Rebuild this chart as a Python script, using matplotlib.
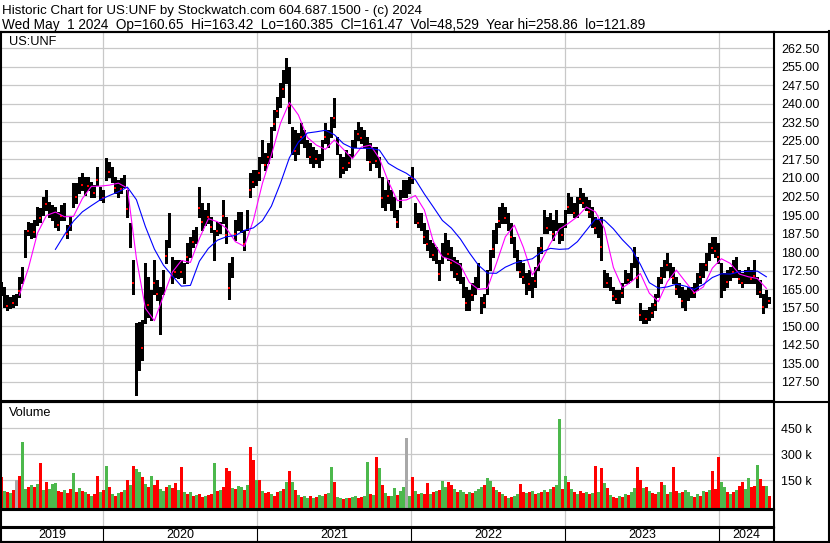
import numpy as np
import pandas as pd
import matplotlib
matplotlib.use("Agg")
import matplotlib.pyplot as plt
from matplotlib.lines import Line2D

plt.rcParams['font.family'] = ['Liberation Sans', 'DejaVu Sans']

# weekly high / low of US:UNF, 5 May 2019 .. 29 Apr 2024
highs = [168.0, 166.0, 162.6, 161.9, 162.6, 163.2, 170.0, 174.1, 188.9, 192.3,
         191.6, 192.9, 198.4, 197.7, 202.4, 205.1, 200.4, 199.0, 198.4, 196.3,
         199.0, 199.7, 190.9, 194.3, 207.8, 207.8, 210.5, 211.9, 210.5, 210.5,
         208.5, 207.1, 214.6, 206.5, 205.1, 217.9, 216.6, 214.6, 210.5, 209.2,
         209.8, 211.2, 205.1, 191.6, 176.8, 151.1, 151.8, 152.5, 175.4, 170.0,
         164.6, 176.8, 168.7, 166.0, 172.7, 184.8, 195.7, 178.1, 176.8, 176.8,
         176.8, 175.4, 183.5, 186.2, 188.9, 190.3, 206.5, 199.7, 197.0, 199.7,
         194.3, 188.9, 192.3, 192.3, 201.1, 194.3, 175.4, 178.1, 193.0, 196.3,
         196.3, 188.9, 197.0, 211.9, 213.2, 213.2,
         218.6, 225.4, 220.0, 224.0, 230.8, 237.5, 242.9, 248.3, 253.7, 258.4,
         255.0, 230.8, 229.4, 228.1, 232.1, 229.4, 225.4, 224.0, 222.7, 221.3,
         219.9, 225.4, 232.1, 229.4, 234.8, 242.2, 226.7, 219.9, 218.6, 221.3,
         219.9, 225.4, 229.4, 232.8, 230.8, 229.4, 226.7, 224.0, 222.7, 222.7,
         218.6, 210.5, 205.1, 209.2, 205.1, 202.4, 197.0, 205.1, 209.2, 209.2,
         210.5, 214.6, 199.7, 195.7, 195.7, 191.6, 188.9, 184.8, 183.5, 182.2,
         176.8, 183.5, 187.6, 184.8, 182.2, 178.1, 176.8, 175.4, 170.0, 166.0,
         164.6, 167.3, 170.0, 175.4, 161.9, 163.2, 172.7, 180.8, 188.9, 191.6,
         198.4,
         199.7, 198.4, 195.7, 191.6, 186.2, 180.8, 176.8, 175.4, 171.4, 172.7,
         170.0, 174.1, 182.2, 186.2, 197.0, 194.3, 195.7, 193.0, 197.0, 191.6,
         191.6, 197.0, 203.8, 202.4, 199.7, 202.4, 205.8, 203.8, 202.4, 201.1,
         198.4, 194.3, 193.0, 194.3, 172.7, 171.4, 170.0, 166.0, 164.6, 164.6,
         167.3, 172.7, 171.4, 175.4, 182.2, 178.1, 159.2, 156.5, 156.5, 157.8,
         159.2, 163.2, 170.0, 174.1, 176.8, 179.5, 175.4, 174.1, 170.0, 167.3,
         166.0, 164.6, 166.0, 166.0, 167.3, 171.4, 175.4, 175.4, 179.5, 183.5,
         186.2, 186.2, 183.5, 175.4, 171.4, 172.7, 174.1, 176.8, 178.1, 172.7,
         171.4, 172.7, 174.1, 172.7, 176.8, 170.0, 168.7, 163.2, 164.6, 161.9]

lows = [162.6, 157.8, 156.5, 157.2, 157.8, 158.5, 161.9, 167.3, 178.1, 186.9,
        185.5, 186.2, 190.9, 192.3, 195.0, 197.0, 194.3, 193.0, 190.3, 188.9,
        193.0, 193.0, 185.5, 188.9, 198.4, 199.7, 203.8, 205.1, 203.1, 205.1,
        202.4, 202.4, 207.1, 201.1, 200.4, 209.2, 210.5, 208.5, 203.8, 202.4,
        203.8, 206.5, 194.3, 182.2, 163.2, 122.1, 132.2, 136.3, 151.1, 153.8,
        152.5, 163.2, 160.6, 147.0, 163.2, 175.4, 182.2, 167.3, 170.0, 169.3,
        170.0, 167.3, 175.4, 178.1, 182.2, 183.5, 194.3, 188.9, 190.9, 191.6,
        188.2, 176.8, 186.9, 187.6, 191.6, 183.5, 161.2, 170.0, 184.8, 188.9,
        188.2, 180.8, 188.9, 202.4, 206.5, 207.1,
        209.2, 215.9, 213.2, 215.9, 218.6, 229.4, 234.8, 238.9, 242.9, 248.3,
        232.1, 219.9, 217.3, 219.9, 224.0, 222.7, 218.6, 215.9, 214.6, 215.9,
        214.6, 217.3, 224.0, 222.7, 226.7, 230.8, 219.9, 210.5, 211.9, 213.2,
        214.6, 218.6, 222.7, 225.4, 224.0, 222.7, 217.3, 213.2, 215.9, 214.6,
        210.5, 198.4, 197.0, 199.7, 197.0, 194.3, 190.3, 198.4, 202.4, 202.4,
        203.8, 207.8, 191.6, 190.3, 188.9, 183.5, 180.8, 178.1, 176.8, 175.4,
        168.7, 175.4, 178.1, 176.8, 172.7, 170.0, 168.7, 167.3, 161.9, 156.5,
        156.5, 160.6, 163.2, 166.0, 155.2, 157.8, 163.2, 172.7, 178.1, 183.5,
        190.3,
        191.6, 191.6, 188.9, 183.5, 178.1, 172.7, 170.0, 167.3, 163.2, 164.6,
        161.9, 166.0, 172.7, 179.5, 187.6, 187.6, 188.9, 184.8, 188.9, 183.5,
        184.8, 190.3, 195.7, 195.7, 194.3, 194.3, 199.7, 198.4, 197.0, 194.3,
        190.3, 187.6, 186.2, 176.8, 166.0, 166.0, 164.6, 160.6, 159.2, 159.2,
        161.9, 167.3, 167.3, 168.7, 174.1, 166.0, 152.5, 151.1, 151.1, 152.5,
        153.8, 156.5, 161.9, 167.3, 170.0, 172.7, 170.0, 167.3, 163.2, 161.9,
        157.8, 156.5, 160.6, 161.9, 161.9, 164.6, 167.3, 170.0, 172.7, 176.8,
        179.5, 178.1, 175.4, 161.9, 164.6, 166.0, 168.7, 170.0, 170.0, 167.3,
        166.0, 167.3, 167.3, 167.3, 167.3, 163.2, 161.9, 155.2, 157.8, 159.2]

# weekly volume in thousands, r = down, g = up, k = unchanged
volume_k = [170, 90, 80, 75, 95, 150, 175, 370, 100, 110,
            120, 110, 130, 250, 95, 140, 100, 130, 135, 90,
            80, 95, 75, 100, 190, 85, 105, 90, 80, 70,
            60, 70, 175, 80, 95, 232, 110, 70, 60, 75,
            80, 95, 150, 120, 235, 213, 195, 170, 130, 110,
            175, 120, 150, 100, 90, 110, 120, 105, 135, 95,
            229, 80, 70, 85, 60, 65, 70, 55, 60, 65,
            70, 248, 90, 95, 110, 219, 204, 105, 100, 115,
            110, 95, 120, 344, 267, 150, 150, 90, 75, 80,
            70, 60, 80, 90, 100, 140, 205, 140, 95, 65,
            55, 60, 45, 60, 50, 55, 65, 60, 70, 75,
            229, 140, 55, 45, 40, 50, 45, 55, 60, 45,
            55, 60, 258, 70, 65, 287, 221, 123, 75, 60,
            60, 105, 65, 90, 110, 396, 60, 169, 90, 70,
            75, 70, 136, 70, 80, 90, 95, 148, 110, 142,
            120, 100, 85, 95, 80, 70, 85, 75, 90, 100,
            110, 120, 163, 148, 110, 95, 80, 70, 60, 50,
            55, 60, 70, 129, 85, 75, 80, 90, 70, 75,
            80, 95, 85, 100, 110, 120, 504, 100, 175, 140,
            100, 80, 70, 90, 75, 80, 70, 75, 233, 80,
            223, 137, 105, 65, 55, 50, 60, 55, 70, 65,
            80, 104, 227, 150, 104, 110, 90, 75, 70, 80,
            140, 125, 70, 80, 227, 90, 75, 85, 95, 80,
            60, 55, 70, 60, 90, 85, 95, 204, 102, 285,
            140, 110, 80, 70, 85, 95, 115, 140, 100, 163,
            110, 115, 238, 158, 117, 117, 60]
volume_dir = ("rgrgrkrggr" "grgrgrgggr" "rgrrgrgrgr" "grrgrgrgrg" "rgrgrggrgr"
              "grrggrgrrg" "rgrgrgrrgr" "rgrgrrrgrg" "grgrrgrgrr" "grrgrgrgrg"
              "rggrgrggrg" "grggrgrggr" "rggrgrgrgr" "ggrggkgrgr" "grrgrgrggr"
              "rgrggrgrgg" "grggrgrgrg" "rggrrgrgrg" "rgrgrggrgr" "grgrrgrgrg"
              "rgrgrrgrgr" "ggrrgrgrrg" "rgrgrrgrgg" "grgrgrgrrr" "ggrgrgrrgg"
              "rrgrrgr")

# moving averages, every third week (50 day from week 6, 200 day from week 18)
ma50 = [162.6, 173.5, 187.6, 194.8, 196.2, 194.3, 194.4, 201.7, 206.6, 206.7,
        207.1, 207.9, 205.9, 177.4, 157.2, 152.2, 162.2, 171.9, 176.6, 175.8,
        185.5, 193.5, 192.3, 189.6, 184.2, 182.3, 192.9, 207.8, 219.3, 232.1,
        240.6, 235.5, 226.4, 223.3, 221.6, 225.4, 221.6, 217.8, 222.5, 223.3,
        217.9, 208.5, 200.8, 201.1, 202.9, 197.0, 184.2, 178.1, 176.8, 174.7,
        167.7, 164.9, 165.3, 175.4, 186.2, 190.9, 181.9, 170.7, 176.5, 183.5,
        189.3, 191.6, 194.3, 198.2, 196.3, 189.6, 173.8, 165.5, 168.0, 171.3,
        163.3, 159.9, 168.0, 172.7, 168.0, 163.5, 165.9, 173.5, 177.3, 175.4,
        171.1, 170.0, 169.3, 165.3]
ma200 = [181.1, 187.0, 192.5, 196.3, 198.8, 201.2, 202.9, 204.4, 206.3, 201.2,
         190.3, 181.2, 174.7, 170.3, 166.2, 166.5, 176.3, 181.5, 184.8, 186.2,
         186.7, 188.8, 189.8, 192.7, 198.6, 207.8, 218.2, 224.5, 228.2, 228.7,
         229.3, 227.5, 223.9, 222.1, 222.0, 222.0, 221.3, 215.9, 213.7, 211.9,
         209.3, 203.5, 198.2, 192.8, 189.7, 185.3, 179.7, 174.7, 171.5, 171.4,
         173.9, 175.5, 176.5, 177.3, 180.0, 181.5, 181.1, 181.3, 184.2, 188.8,
         193.4, 192.9, 189.4, 185.0, 181.3, 175.0, 167.6, 165.4, 165.9, 167.0,
         166.2, 164.9, 166.9, 169.7, 171.2, 171.1, 172.0, 172.2, 172.3, 170.0]

years = [2019, 2020, 2021, 2022, 2023, 2024]
price_ticks = np.arange(127.5, 263, 7.5)
vol_ticks = [150, 300, 450]

title1 = "Historic Chart for US:UNF by Stockwatch.com 604.687.1500 - (c) 2024"
title2 = ("Wed May  1 2024  Op=160.65  Hi=163.42  Lo=160.385  Cl=161.47  "
          "Vol=48,529  Year hi=258.86  lo=121.89")

dates = pd.date_range('2019-05-05', '2024-04-29', periods=len(highs))
x_left, x_right = pd.Timestamp('2019-05-04'), pd.Timestamp('2024-05-10')
bounds = [x_left] + [pd.Timestamp(f'{y}-01-01') for y in years[1:]] + [x_right]

W, H = 830, 543
fig = plt.figure(figsize=(W / 100, H / 100), dpi=100)
grid_c = '#c8c8c8'
PX = 0.72  # one pixel in points


def box(x0, y0, x1, y1):
    # pixel box -> figure fraction
    return [x0 / W, 1 - y1 / H, (x1 - x0) / W, (y1 - y0) / H]


ax = fig.add_axes(box(1, 32, 774, 401))
axv = fig.add_axes(box(1, 402, 774, 509))
axe = fig.add_axes(box(1, 510, 774, 527))
axy = fig.add_axes(box(1, 528, 774, 542))

for a in (ax, axv, axe, axy):
    a.set_xlim(x_left, x_right)
    for s in a.spines.values():
        s.set_color('black')
        s.set_linewidth(1.5)
    a.set_xticks([])

# price panel
hi = np.array(highs)
lo = np.array(lows)
ax.vlines(dates, lo, hi, color='black', linewidth=2.6 * PX, antialiased=False)
down = np.array([c == 'r' for c in volume_dir])
close_dn = lo + 0.3 * (hi - lo)
ax.plot(dates[down], close_dn[down], 's', color='#ff0000', markersize=1.7,
        markeredgewidth=0)
ax.plot(dates[6::3], ma50, color='#ff00ff', linewidth=0.8)
ax.plot(dates[18::3], ma200, color='#0000ff', linewidth=0.8)
ax.set_ylim(119.7, 269.1)
ax.set_yticks(price_ticks)
ax.set_yticklabels([f'{v:.2f}' for v in price_ticks])
ax.yaxis.tick_right()
ax.tick_params(axis='y', length=0, pad=5, labelsize=9)
ax.grid(axis='y', color=grid_c, linewidth=0.9)
ax.set_axisbelow(True)
for b in bounds[1:-1]:
    ax.axvline(b, color=grid_c, linewidth=0.9, zorder=0)
ax.text(8 / 773, 1 - 10 / 369, 'US:UNF', transform=ax.transAxes,
        fontsize=9.2, va='center', ha='left')

# volume panel
colors = {'r': '#ff0000', 'g': '#4cb84c', 'k': '#a8a8a8'}
vbase = -15.6
axv.bar(dates, np.array(volume_k) - vbase, bottom=vbase, width=7.0,
        color=[colors[c] for c in volume_dir], linewidth=0, antialiased=False)
axv.set_ylim(vbase, 601.7)
axv.set_yticks(vol_ticks)
axv.set_yticklabels([f'{v} k' for v in vol_ticks])
axv.yaxis.tick_right()
axv.tick_params(axis='y', length=0, pad=5, labelsize=9)
axv.grid(axis='y', color=grid_c, linewidth=0.9)
axv.set_axisbelow(True)
for b in bounds[1:-1]:
    axv.axvline(b, color=grid_c, linewidth=0.9, zorder=0)
axv.text(8 / 773, 1 - 11 / 107, 'Volume', transform=axv.transAxes,
         fontsize=9.2, va='center', ha='left')

# empty cell row and year row
axe.set_yticks([])
for b in bounds[1:-1]:
    axe.axvline(b, color=grid_c, linewidth=0.9)
axy.set_yticks([])
for b in bounds[1:-1]:
    axy.axvline(b, color='black', linewidth=0.8)
for y, a, b in zip(years, bounds[:-1], bounds[1:]):
    axy.text(a + (b - a) / 2, 0.5, str(y), fontsize=9, ha='center', va='center',
             transform=axy.get_xaxis_transform())

# frame and header
for yy in (31.5, 401.5):
    fig.add_artist(Line2D([0, 1], [1 - yy / H] * 2, color='black', lw=1.5))
fig.add_artist(Line2D([829 / W] * 2, [0, 1 - 31 / H], color='black', lw=1.5))
fig.add_artist(Line2D([0, 1], [1 / H] * 2, color='black', lw=1.5))
fig.text(2 / W, 1 - 13.6 / H, title1, fontsize=9.6, va='baseline', ha='left')
fig.text(2 / W, 1 - 29.0 / H, title2, fontsize=9.8, va='baseline', ha='left')

fig.savefig('out.png', dpi=100)
